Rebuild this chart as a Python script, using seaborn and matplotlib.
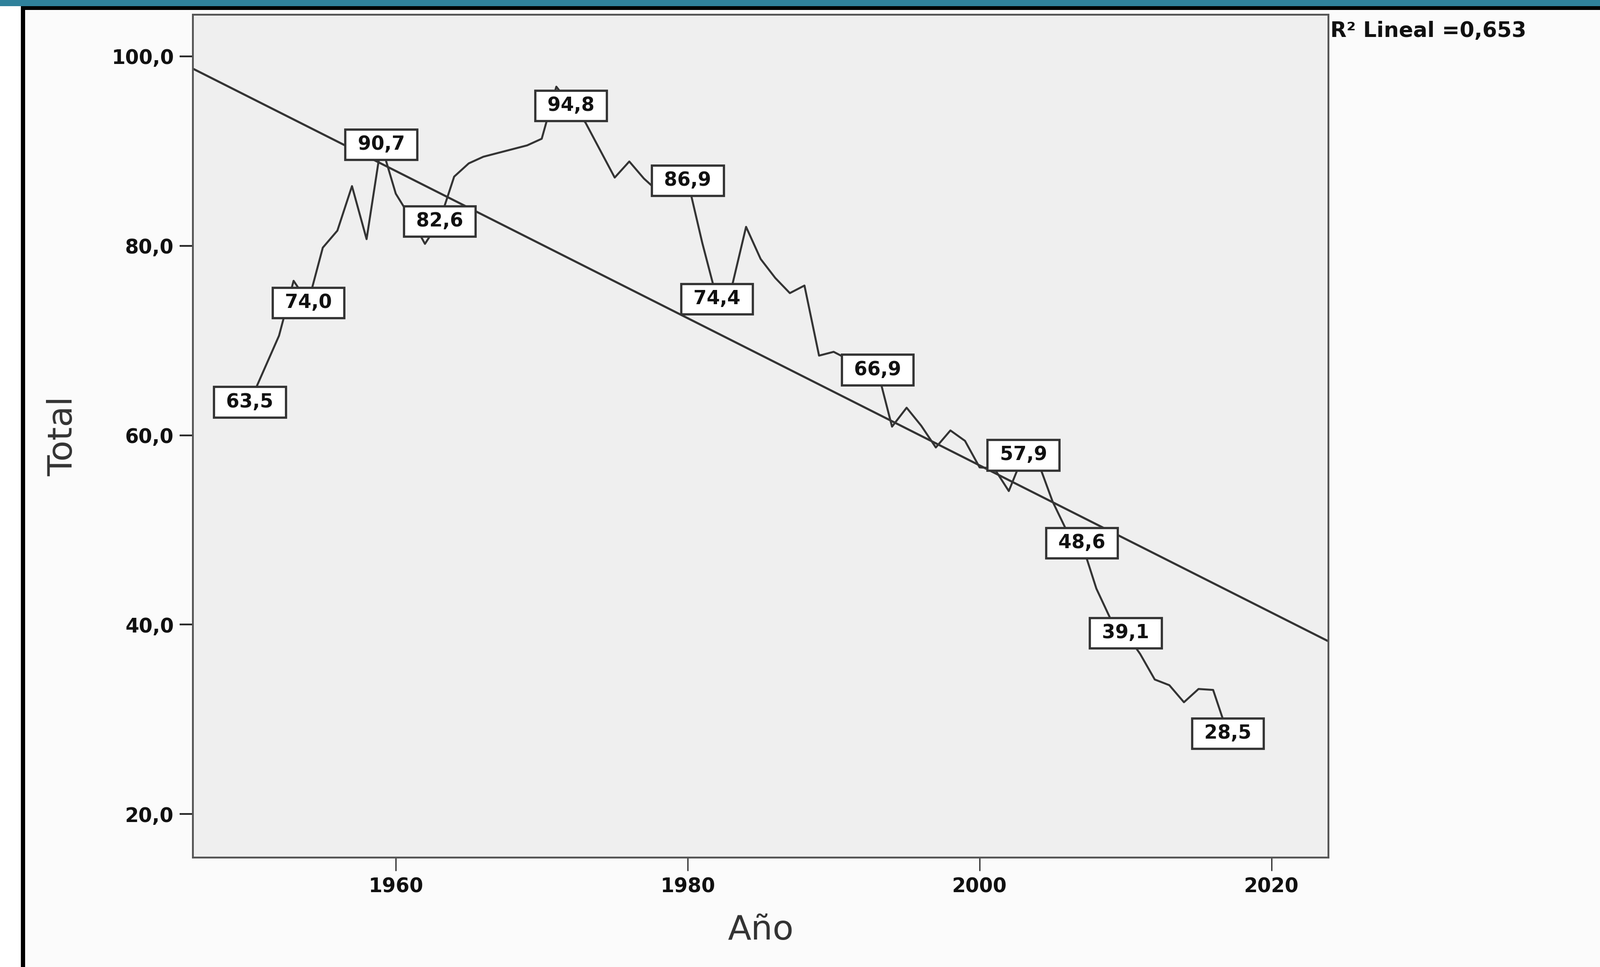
import matplotlib
matplotlib.use("Agg")
import matplotlib.pyplot as plt
from matplotlib.patches import Rectangle
import seaborn as sns
import pandas as pd

# ---- data ----
years = list(range(1950, 2018))
totals = [
    63.5, 67.0, 70.5, 76.3, 74.0, 79.8, 81.6, 86.3, 80.7, 90.7,   # 1950-1959
    85.5, 83.0, 80.2, 82.6, 87.3, 88.7, 89.4, 89.8, 90.2, 90.6,   # 1960-1969
    91.3, 96.8, 94.8, 93.0, 90.1, 87.2, 88.9, 87.1, 85.7, 86.0,   # 1970-1979
    86.9, 80.3, 74.4, 75.5, 82.0, 78.6, 76.6, 75.0, 75.8, 68.4,   # 1980-1989
    68.8, 68.0, 67.5, 66.9, 60.9, 62.9, 61.0, 58.7, 60.5, 59.4,   # 1990-1999
    56.6, 56.5, 54.1, 57.9, 57.2, 53.0, 49.8, 48.6, 43.8, 40.5,   # 2000-2009
    39.1, 36.9, 34.2, 33.6, 31.8, 33.2, 33.1, 28.5,               # 2010-2017
]
label_years = [1950, 1954, 1959, 1963, 1972, 1980, 1982, 1993, 2003, 2007, 2010, 2017]
x_ticks = [1960, 1980, 2000, 2020]
y_ticks = [20, 40, 60, 80, 100]
r2_text = "R\u00b2 Lineal =0,653"
x_label = "A\u00f1o"
y_label = "Total"

df = pd.DataFrame({"Año": years, "Total": totals})

# ---- style ----
sns.set_style("ticks")
plt.rcParams["font.family"] = ["DejaVu Sans"]

W, H, DPI = 3376, 2041, 200
fig = plt.figure(figsize=(W / DPI, H / DPI), dpi=DPI)
fig.patch.set_facecolor("#fbfbfb")

# frame decorations of the screenshot
fig.patches.append(Rectangle((0, 0), 44 / W, 1 - 13 / H, transform=fig.transFigure,
                             facecolor="white", edgecolor="none", zorder=0))
fig.patches.append(Rectangle((0, 1 - 13 / H), 1, 13 / H, transform=fig.transFigure,
                             facecolor="#2f819b", edgecolor="none", zorder=1))
fig.patches.append(Rectangle((44 / W, 1 - 21 / H), 1, 8 / H, transform=fig.transFigure,
                             facecolor="black", edgecolor="none", zorder=1))
fig.patches.append(Rectangle((44 / W, 0), 9 / W, 1 - 13 / H, transform=fig.transFigure,
                             facecolor="black", edgecolor="none", zorder=1))

ax = fig.add_axes([407 / W, 1 - 1810 / H, (2803 - 407) / W, (1810 - 31) / H])
ax.set_facecolor("#efefef")
ax.set_xlim(1946.1, 2023.9)
ax.set_ylim(15.4, 104.4)

line_col = "#333333"
sns.lineplot(data=df, x="Año", y="Total", ax=ax, color=line_col, linewidth=1.5,
             zorder=3, legend=False)
sns.regplot(data=df, x="Año", y="Total", ax=ax, scatter=False, ci=None,
            truncate=False, line_kws=dict(color=line_col, linewidth=1.6, zorder=2))
ax.set_xlim(1946.1, 2023.9)
ax.set_ylim(15.4, 104.4)

# value boxes
for yr in label_years:
    v = totals[years.index(yr)]
    txt = " " + f"{v:.1f}".replace(".", ",") + " "
    ax.text(yr, v, txt, ha="center", va="center", fontsize=14.5, fontweight="bold",
            color="#111111", zorder=5,
            bbox=dict(boxstyle="square,pad=0.3", facecolor="white",
                      edgecolor="#333333", linewidth=1.7))

# axes styling
for s in ax.spines.values():
    s.set_color("#555555")
    s.set_linewidth(1.4)
ax.set_xticks(x_ticks)
ax.set_xticklabels([str(t) for t in x_ticks])
ax.set_yticks(y_ticks)
ax.set_yticklabels([f"{t:.1f}".replace(".", ",") for t in y_ticks])
ax.tick_params(axis="both", direction="out", length=10, color="#222222",
               labelsize=15, labelcolor="#111111", pad=4.5)
ax.tick_params(axis="y", width=1.3)
ax.tick_params(axis="x", width=0.9)
for lab in ax.get_xticklabels() + ax.get_yticklabels():
    lab.set_fontweight("bold")

ax.set_xlabel(x_label, fontsize=26, color="#333333")
ax.set_ylabel(y_label, fontsize=26, color="#333333")
ax.xaxis.set_label_coords(0.5, -0.067)
ax.yaxis.set_label_coords(-0.10, 0.5)

fig.text(2807 / W, 1 - 65 / H, r2_text, ha="left", va="center", fontsize=16,
         fontweight="bold", color="#111111")

fig.savefig("out.png", dpi=DPI, facecolor=fig.get_facecolor())
